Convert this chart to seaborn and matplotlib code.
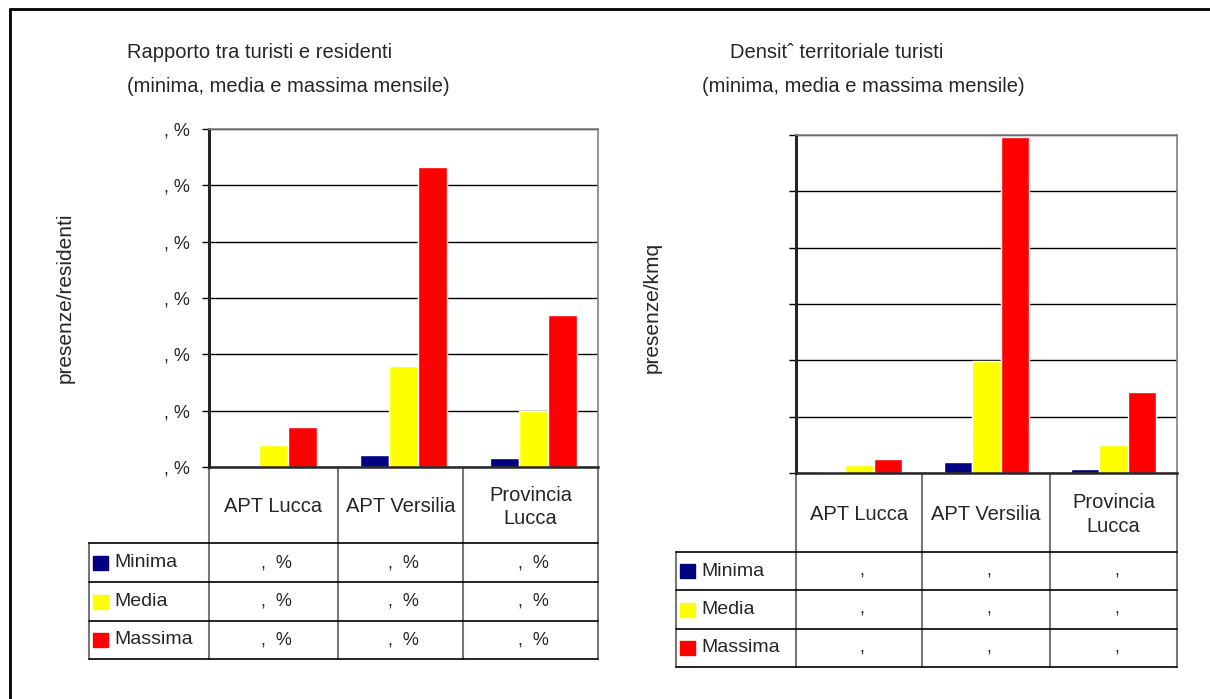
import pandas as pd
import seaborn as sns
import matplotlib.pyplot as plt
from matplotlib.patches import Rectangle

# data
aree = ['APT Lucca', 'APT Versilia', 'Provincia\nLucca']
serie = ['Minima', 'Media', 'Massima']
colori = ['#000080', '#FFFF00', '#FF0000']

# presenze/residenti (%)
rapporto_minima = [0.0, 2.1, 1.6]
rapporto_media = [3.9, 18.0, 9.9]
rapporto_massima = [7.1, 53.2, 26.9]
rapporto_ticks = [0, 10, 20, 30, 40, 50, 60]

# presenze/kmq
densita_minima = [12, 100, 35]
densita_media = [75, 995, 245]
densita_massima = [120, 2980, 715]
densita_ticks = [0, 500, 1000, 1500, 2000, 2500, 3000]

# labels as they appear (digits lost in the source)
rapporto_celle = [[',  %'] * 3, [',  %'] * 3, [',  %'] * 3]
densita_celle = [[','] * 3, [','] * 3, [','] * 3]


def long_df(mn, md, mx):
    rows = []
    for nome, vals in zip(serie, [mn, md, mx]):
        for a, v in zip(aree, vals):
            rows.append({'area': a, 'serie': nome, 'valore': v})
    return pd.DataFrame(rows)


sns.set_style('white')
plt.rcParams['font.family'] = ['Liberation Sans', 'DejaVu Sans']

W, H = 1210, 699
fig = plt.figure(figsize=(W / 100, H / 100), dpi=100)


def box(x0, y0, x1, y1):
    return [x0 / W, 1 - y1 / H, (x1 - x0) / W, (y1 - y0) / H]


ax1 = fig.add_axes(box(209, 129, 598, 467))
ax2 = fig.add_axes(box(796, 135, 1177, 473))
over = fig.add_axes([0, 0, 1, 1], zorder=-1)
over.set_xlim(0, W)
over.set_ylim(H, 0)
over.axis('off')

pal = dict(zip(serie, colori))
for ax, df, ticks, lab in [
        (ax1, long_df(rapporto_minima, rapporto_media, rapporto_massima), rapporto_ticks, 'presenze/residenti'),
        (ax2, long_df(densita_minima, densita_media, densita_massima), densita_ticks, 'presenze/kmq')]:
    sns.barplot(data=df, x='area', y='valore', hue='serie', hue_order=serie,
                palette=pal, width=0.67, gap=0, saturation=1, ax=ax, legend=False)
    ax.set_ylim(ticks[0], ticks[-1])
    ax.set_yticks(ticks)
    ax.yaxis.grid(True, color='black', lw=1)
    ax.set_axisbelow(True)
    ax.set_xlabel('')
    ax.set_xticks([])
    ax.set_ylabel(lab, fontsize=15)
    ax.spines['left'].set_linewidth(2.2)
    ax.spines['bottom'].set_linewidth(1.8)
    for s in ['top', 'right']:
        ax.spines[s].set_color('#808080')
        ax.spines[s].set_linewidth(1.2)
    for s in ax.spines.values():
        s.set_visible(True)
    ax.tick_params(axis='y', left=True, length=5, width=1, color='black', pad=9)

ax1.set_yticklabels([', %'] * len(rapporto_ticks), fontsize=13)
ax2.set_yticklabels([''] * len(densita_ticks))
ax1.yaxis.set_label_coords(-0.345, 0.5)
ax2.yaxis.set_label_coords(-0.352, 0.49)

# titles
over.text(127, 53, 'Rapporto tra turisti e residenti', fontsize=14.5, va='center')
over.text(127, 87, '(minima, media e massima mensile)', fontsize=14.5, va='center')
over.text(730, 53, 'Densit\u02c6 territoriale turisti', fontsize=14.5, va='center')
over.text(702, 87, '(minima, media e massima mensile)', fontsize=14.5, va='center')

# outer frame (only top and left visible)
over.plot([10, W], [9, 9], color='black', lw=2)
over.plot([10, 10], [9, H], color='black', lw=2)


def tabella(cols, top, head_bot, rows, leg_x, celle, ax_cols_labels):
    for x in cols:
        over.plot([x, x], [top, rows[-1]], color='#777777', lw=1.5)
    over.plot([leg_x, leg_x], [head_bot, rows[-1]], color='#777777', lw=1.5)
    over.plot([cols[0], cols[-1]], [head_bot, head_bot], color='black', lw=1.2)
    over.plot([leg_x, cols[0]], [head_bot, head_bot], color='black', lw=1.2)
    for y in rows:
        over.plot([leg_x, cols[-1]], [y, y], color='black', lw=1.2)
    for i, a in enumerate(ax_cols_labels):
        over.text((cols[i] + cols[i + 1]) / 2, (top + head_bot) / 2 + 2, a,
                  fontsize=14.5, ha='center', va='center', linespacing=1.3)
    edges = [head_bot] + rows
    for r, nome in enumerate(serie):
        yc = (edges[r] + edges[r + 1]) / 2
        over.add_patch(Rectangle((leg_x + 4, yc - 7), 15, 14, color=colori[r]))
        over.text(leg_x + 25, yc, nome, fontsize=14, va='center')
        for c in range(3):
            over.text((cols[c] + cols[c + 1]) / 2 + 3, yc, celle[r][c],
                      fontsize=13, ha='center', va='center')


tabella([209, 338, 463, 598], 467, 543, [582, 621, 659], 89, rapporto_celle, aree)
tabella([796, 922, 1050, 1177], 473, 552, [590, 629, 667], 676, densita_celle, aree)

fig.savefig('out.png', dpi=100)
